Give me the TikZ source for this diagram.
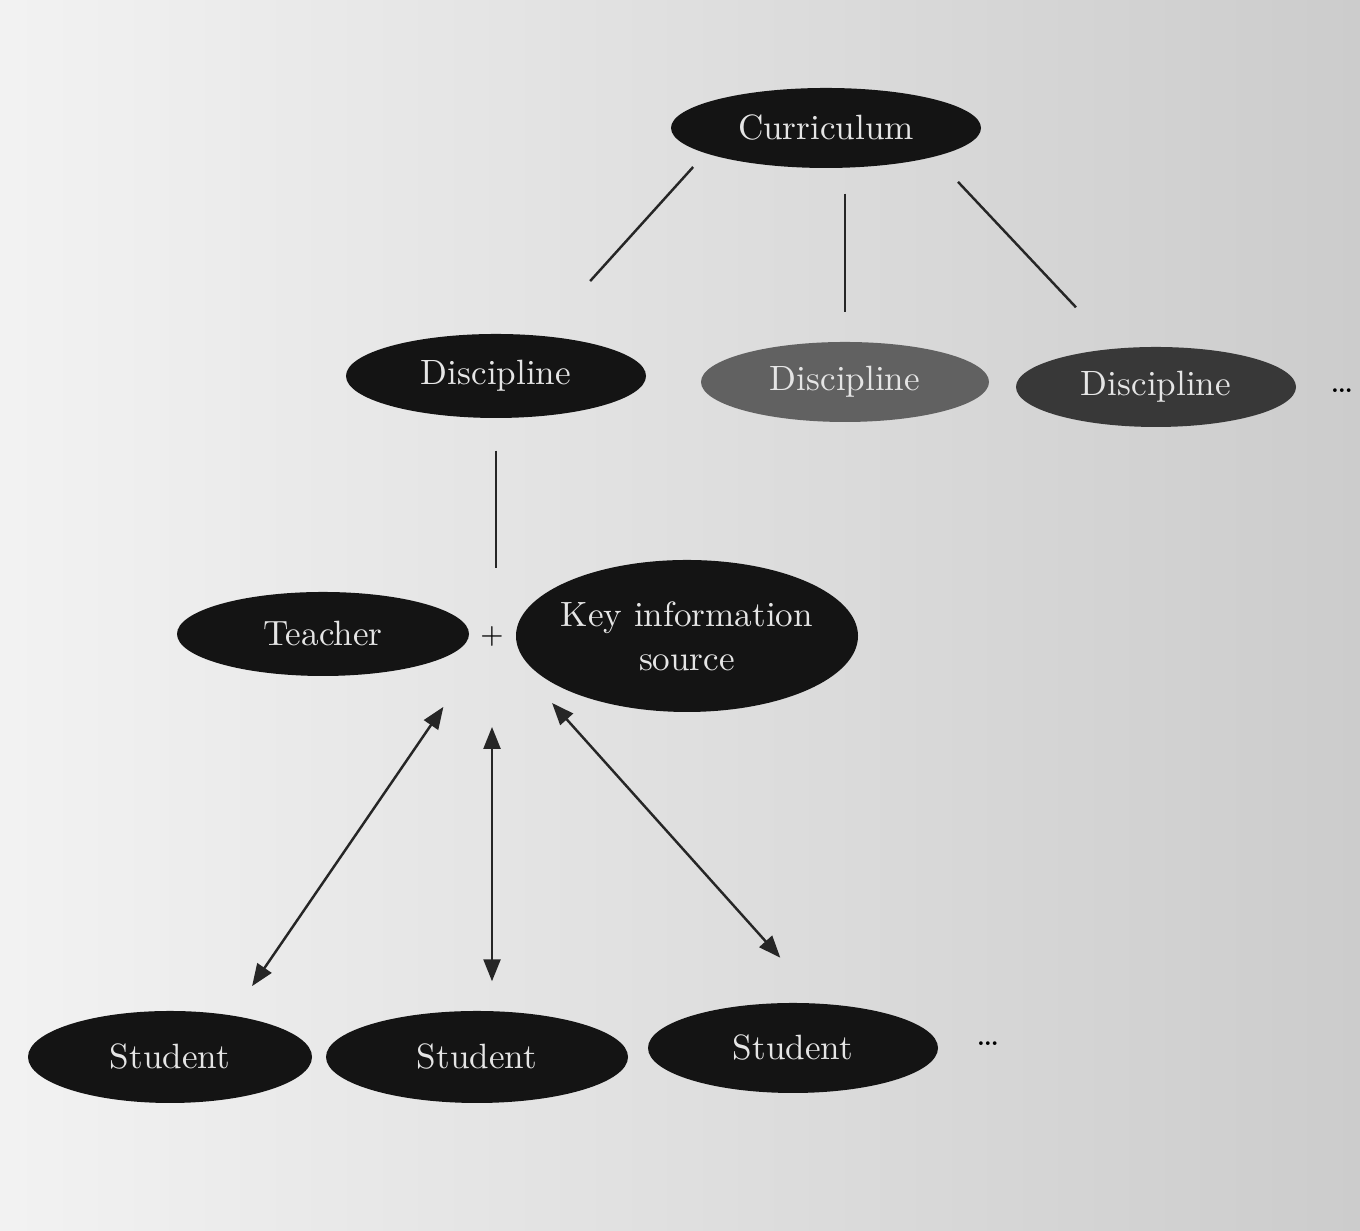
\documentclass[tikz,border=0pt]{standalone}
\usetikzlibrary{shapes.geometric,arrows.meta,calc}
\usepackage{xcolor}
\colorlet{noir}{black!92}
\colorlet{grismoyen}{black!62}
\colorlet{grisfonce}{black!78}

\begin{document}
\begin{tikzpicture}[
    bulle/.style={ellipse, fill=noir, text=white!90!black, inner sep=0pt,
      font=\fontsize{10}{12.5}\selectfont, align=center},
    lien/.style={line width=0.7pt, draw=black!85},
    fleche/.style={lien, {Triangle[length=2.2mm,width=1.7mm]}-{Triangle[length=2.2mm,width=1.7mm]}}
  ]
      % Fond
      \shade[left color=black!5, right color=black!20] (0,0) rectangle (13.6,12.31);
      \useasboundingbox (0,0) rectangle (13.6,12.31);

      % Niveaux
      \node[bulle, minimum width=3.1cm, minimum height=0.8cm] (cur) at (8.26,11.03) {Curriculum};
      \node[bulle, minimum width=3.0cm, minimum height=0.84cm] (dis1) at (4.96,8.55) {Discipline};
      \node[bulle, fill=grismoyen, minimum width=2.88cm, minimum height=0.8cm] (dis2) at (8.45,8.49) {Discipline};
      \node[bulle, fill=grisfonce, minimum width=2.8cm, minimum height=0.8cm] (dis3) at (11.56,8.44) {Discipline};
      \node (pts1) at (13.42,8.40) {\dots};

      \node[bulle, minimum width=2.92cm, minimum height=0.84cm] (tea) at (3.23,5.97) {Teacher};
      \node[inner sep=0pt, font=\footnotesize] (plus) at (4.92,5.95) {+};
      \node[bulle, inner xsep=-1.2mm, minimum width=3.42cm, minimum height=1.52cm] (kis) at (6.87,5.95) {Key information\\source};

      % Eleves
      \node[bulle, minimum width=2.84cm, minimum height=0.92cm] (st1) at (1.70,1.74) {Student};
      \node[bulle, minimum width=3.02cm, minimum height=0.92cm] (st2) at (4.77,1.74) {Student};
      \node[bulle, minimum width=2.9cm, minimum height=0.9cm] (st3) at (7.93,1.83) {Student};
      \node (pts2) at (9.88,1.87) {\dots};

      % Liens
      \draw[lien, shorten <=0.18cm, shorten >=0.73cm] (cur.192) -- (dis1.42);
      \draw[lien, shorten <=0.25cm, shorten >=0.29cm] (cur.south -| dis2.north) -- (dis2.north);
      \draw[lien, shorten <=0.34cm, shorten >=0.56cm] (cur.345) -- (dis3.137);
      \draw[lien, shorten <=0.32cm, shorten >=0.68cm] (dis1.south) -- (dis1.south |- plus.center);

      % Fleches
      \draw[fleche, shorten <=0.86cm, shorten >=0.35cm] (plus.center) -- (st1.34);
      \draw[fleche, shorten <=0.91cm, shorten >=0.29cm] (plus.center) -- (plus.center |- st2.north);
      \draw[fleche, shorten <=0.9cm, shorten >=0.61cm] (plus.center) -- (st3.58);
    \end{tikzpicture}
\end{document}
